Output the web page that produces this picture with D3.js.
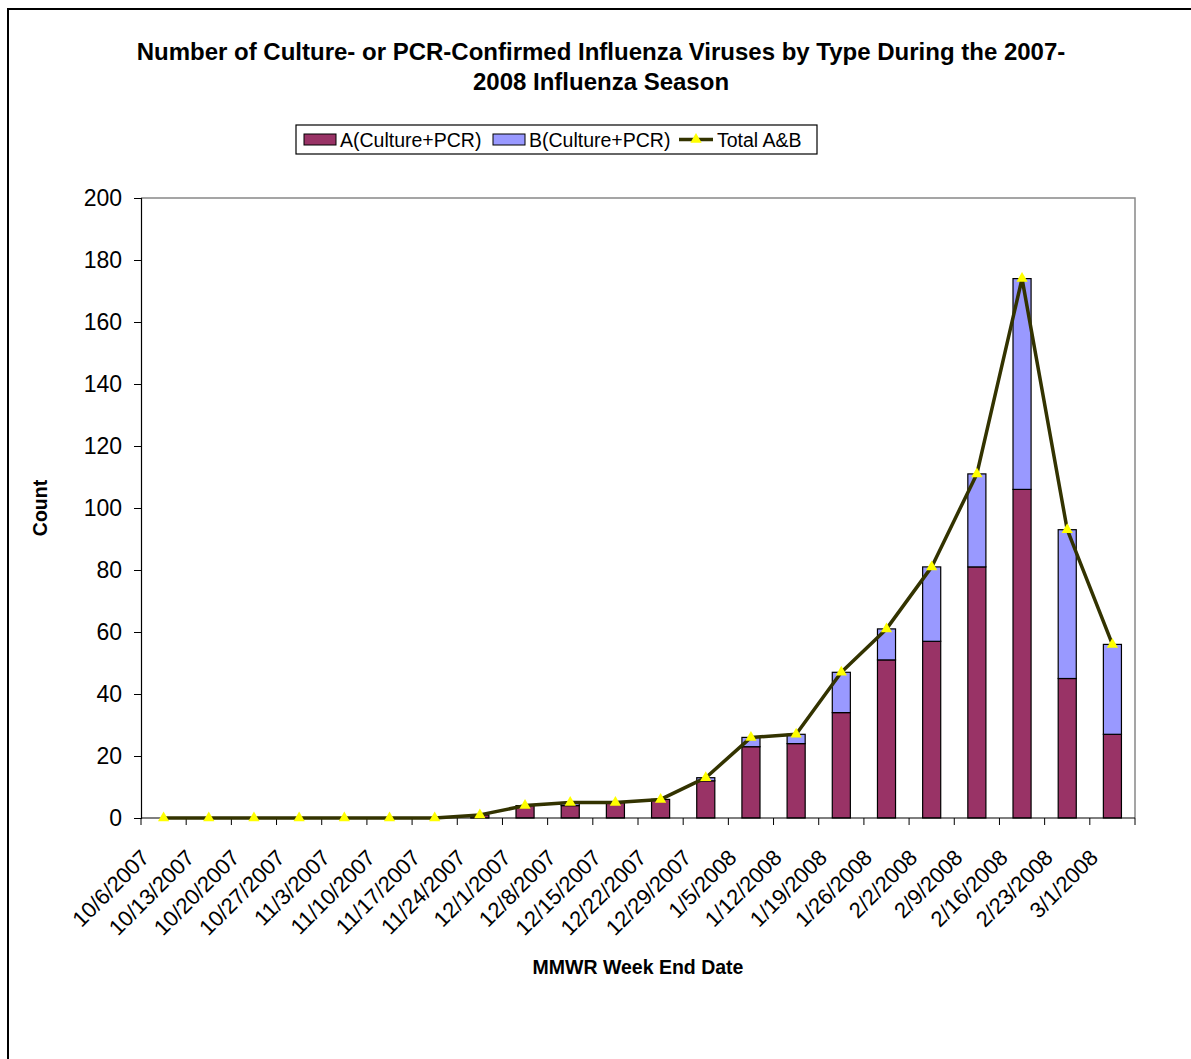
<!DOCTYPE html>
<html>
<head>
<meta charset="utf-8">
<script src="https://cdn.jsdelivr.net/npm/d3@7"></script>
<style>
  body { margin: 0; background: #fff; }
  svg { display: block; font-family: Arial, "Liberation Sans", sans-serif; }
</style>
</head>
<body>
<div id="chart"></div>
<script>
// Weekly counts
const weeks = ["10/6/2007", "10/13/2007", "10/20/2007", "10/27/2007", "11/3/2007", "11/10/2007",
  "11/17/2007", "11/24/2007", "12/1/2007", "12/8/2007", "12/15/2007", "12/22/2007", "12/29/2007",
  "1/5/2008", "1/12/2008", "1/19/2008", "1/26/2008", "2/2/2008", "2/9/2008", "2/16/2008",
  "2/23/2008", "3/1/2008"]
const typeA = [0, 0, 0, 0, 0, 0, 0, 1, 4, 4, 5, 6, 12, 23, 24, 34, 51, 57, 81, 106, 45, 27]
const typeB = [0, 0, 0, 0, 0, 0, 0, 0, 0, 1, 0, 0, 1, 3, 3, 13, 10, 24, 30, 68, 48, 29]
const yTicks = [0, 20, 40, 60, 80, 100, 120, 140, 160, 180, 200]

const width = 1191
const height = 1059
const plot = { left: 141, right: 1135, top: 198, bottom: 818 }

const colorA = "#993366"
const colorB = "#9999ff"
const lineColor = "#333300"
const markerColor = "#ffff00"

const svg = d3.select("#chart").append("svg")
  .attr("width", width)
  .attr("height", height)

// outer chart frame (right and bottom edges fall outside the picture)
svg.append("rect")
  .attr("x", 8).attr("y", 9)
  .attr("width", width + 20).attr("height", height + 20)
  .attr("fill", "none")
  .attr("stroke", "#000")
  .attr("stroke-width", 2)

const x = d3.scaleBand()
  .domain(weeks)
  .range([plot.left, plot.right])
  .paddingInner(0.6)
  .paddingOuter(0.3)

const step = (plot.right - plot.left) / weeks.length
const xc = (w) => x(w) + x.bandwidth() / 2

const y = d3.scaleLinear()
  .domain([0, 200])
  .range([plot.bottom, plot.top])

// plot area border: gray top and right
svg.append("path")
  .attr("d", `M${plot.left},${plot.top}H${plot.right}V${plot.bottom}`)
  .attr("fill", "none")
  .attr("stroke", "#888")
  .attr("stroke-width", 1.5)

// Title
const title = svg.append("text")
  .attr("text-anchor", "middle")
  .attr("font-weight", "bold")
  .attr("font-size", "24px")
  .attr("fill", "#000")
title.append("tspan").attr("x", 601).attr("y", 60)
  .text("Number of Culture- or PCR-Confirmed Influenza Viruses by Type During the 2007-")
title.append("tspan").attr("x", 601).attr("y", 90)
  .text("2008 Influenza Season")

// Stacked bars
const rows = weeks.map((w, i) => ({ week: w, A: typeA[i], B: typeB[i] }))
const stacked = d3.stack().keys(["A", "B"])(rows)
const fills = { A: colorA, B: colorB }

const barG = svg.append("g")
stacked.forEach((layer) => {
  barG.append("g")
    .selectAll("rect")
    .data(layer.filter((d) => d[1] > d[0]))
    .join("rect")
    .attr("x", (d) => x(d.data.week))
    .attr("y", (d) => y(d[1]))
    .attr("width", x.bandwidth())
    .attr("height", (d) => y(d[0]) - y(d[1]))
    .attr("fill", fills[layer.key])
    .attr("stroke", "#000")
    .attr("stroke-width", 1.2)
})

// Y axis
const yAxis = d3.axisLeft(y).tickValues(yTicks).tickSize(7).tickPadding(12)
const yg = svg.append("g")
  .attr("transform", `translate(${plot.left},0)`)
  .call(yAxis)
yg.select(".domain").attr("stroke", "#000").attr("stroke-width", 1.2)
yg.selectAll(".tick line").attr("stroke", "#000")
yg.selectAll("text")
  .attr("font-size", "23px")
  .attr("font-family", "Arial, 'Liberation Sans', sans-serif")
  .attr("fill", "#000")

// X axis: ticks at category boundaries
const boundaries = d3.range(weeks.length + 1).map((i) => plot.left + i * step)
svg.append("line")
  .attr("x1", plot.left).attr("x2", plot.right)
  .attr("y1", plot.bottom).attr("y2", plot.bottom)
  .attr("stroke", "#000").attr("stroke-width", 1.2)
svg.append("g")
  .selectAll("line")
  .data(boundaries)
  .join("line")
  .attr("x1", (d) => d).attr("x2", (d) => d)
  .attr("y1", plot.bottom).attr("y2", plot.bottom + 7)
  .attr("stroke", "#000")

svg.append("g")
  .selectAll("text")
  .data(weeks)
  .join("text")
  .attr("transform", (d) => `translate(${xc(d) - 13},${plot.bottom + 41}) rotate(-45)`)
  .attr("text-anchor", "end")
  .attr("font-size", "22px")
  .attr("fill", "#000")
  .text((d) => d)

// Total line with triangle markers
const totals = rows.map((d) => ({ week: d.week, total: d.A + d.B }))
const line = d3.line()
  .x((d) => xc(d.week))
  .y((d) => y(d.total))

svg.append("path")
  .datum(totals)
  .attr("d", line)
  .attr("fill", "none")
  .attr("stroke", lineColor)
  .attr("stroke-width", 3.5)
  .attr("stroke-linejoin", "round")

const tri = d3.symbol().type(d3.symbolTriangle).size(55)
svg.append("g")
  .selectAll("path")
  .data(totals)
  .join("path")
  .attr("d", tri)
  .attr("transform", (d) => `translate(${xc(d.week)},${y(d.total)})`)
  .attr("fill", markerColor)

// Axis titles
svg.append("text")
  .attr("transform", `translate(47,${(plot.top + plot.bottom) / 2}) rotate(-90)`)
  .attr("text-anchor", "middle")
  .attr("font-weight", "bold")
  .attr("font-size", "19.5px")
  .text("Count")

svg.append("text")
  .attr("x", 638).attr("y", 974)
  .attr("text-anchor", "middle")
  .attr("font-weight", "bold")
  .attr("font-size", "19.5px")
  .text("MMWR Week End Date")

// Legend
const lg = svg.append("g").attr("transform", "translate(296,125)")
lg.append("rect")
  .attr("width", 521).attr("height", 29)
  .attr("fill", "#fff").attr("stroke", "#000").attr("stroke-width", 1.2)

const legendItems = [
  { label: "A(Culture+PCR)", kind: "bar", color: colorA, x: 8 },
  { label: "B(Culture+PCR)", kind: "bar", color: colorB, x: 197 },
  { label: "Total A&B", kind: "line", x: 383 }
]
legendItems.forEach((it) => {
  const g = lg.append("g").attr("transform", `translate(${it.x},0)`)
  if (it.kind === "bar") {
    g.append("rect")
      .attr("x", 0).attr("y", 9).attr("width", 32).attr("height", 11)
      .attr("fill", it.color).attr("stroke", "#000")
  } else {
    g.append("line")
      .attr("x1", 0).attr("x2", 34).attr("y1", 14.5).attr("y2", 14.5)
      .attr("stroke", lineColor).attr("stroke-width", 3.5)
    g.append("path")
      .attr("d", tri)
      .attr("transform", "translate(17,14.5)")
      .attr("fill", markerColor)
  }
  g.append("text")
    .attr("x", it.kind === "bar" ? 36 : 38)
    .attr("y", 21.5)
    .attr("font-size", "19.5px")
    .attr("fill", "#000")
    .text(it.label)
})
</script>
</body>
</html>
